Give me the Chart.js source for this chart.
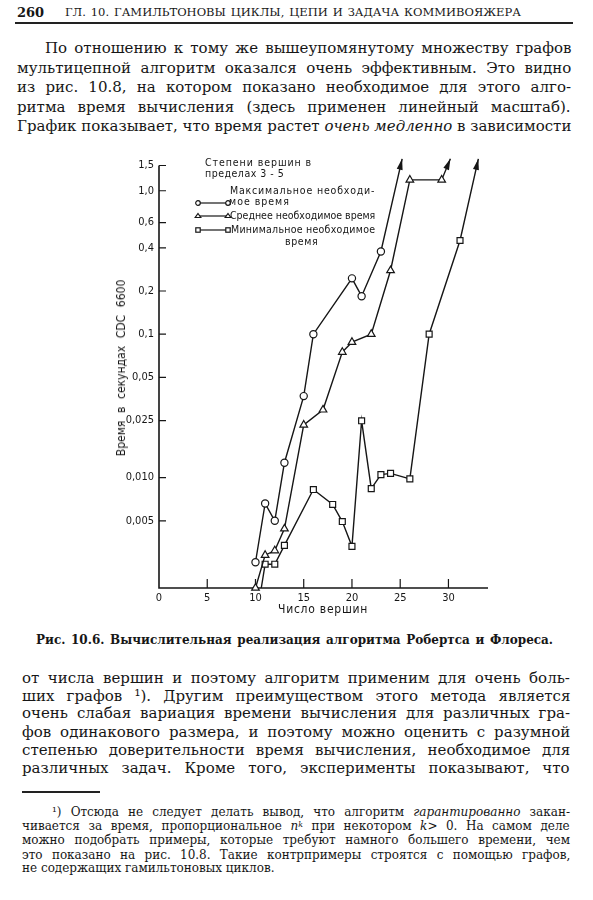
<!DOCTYPE html>
<html><head><meta charset="utf-8">
<script src="https://cdn.jsdelivr.net/npm/chart.js@4.4.1/dist/chart.umd.min.js"></script>
<style>
html,body{margin:0;padding:0;background:#fff;}
body{width:593px;height:900px;position:relative;overflow:hidden;color:#161616;}
.t{position:absolute;white-space:nowrap;transform-origin:0 50%;}
.b{font-family:"DejaVu Serif",serif;font-size:15px;line-height:15px;}
.f{font-family:"DejaVu Serif",serif;font-size:12px;line-height:12px;}
.c{font-family:"DejaVu Serif",serif;font-size:12px;line-height:12px;font-weight:bold;}
.h{font-family:"DejaVu Serif",serif;font-size:11.5px;line-height:11.5px;}
.s{font-family:"DejaVu Sans Condensed","DejaVu Sans",sans-serif;}
.lg{font-size:10.5px;line-height:10.5px;}
.rule{position:absolute;background:#222;}
#cv{position:absolute;left:100px;top:140px;}
sup{font-size:0.65em;line-height:0;vertical-align:0.45em}
</style></head>
<body>
<!-- header -->
<div class="t h" style="left:17px;top:7px;font-weight:bold;font-size:13px;">260</div>
<div class="t h" style="left:65px;top:7.4px;" data-w="456">ГЛ. 10. ГАМИЛЬТОНОВЫ ЦИКЛЫ, ЦЕПИ И ЗАДАЧА КОММИВОЯЖЕРА</div>
<div class="rule" style="left:15px;top:22px;width:558px;height:2px;"></div>

<!-- paragraph 1 -->
<div class="t b" style="left:45px;top:41.4px;" data-w="526">По отношению к тому же вышеупомянутому множеству графов</div>
<div class="t b" style="left:17px;top:60.9px;" data-w="554">мультицепной алгоритм оказался очень эффективным. Это видно</div>
<div class="t b" style="left:17px;top:80.4px;" data-w="554">из рис. 10.8, на котором показано необходимое для этого алго-</div>
<div class="t b" style="left:17px;top:99.7px;" data-w="554">ритма время вычисления (здесь применен линейный масштаб).</div>
<div class="t b" style="left:17px;top:119.1px;" data-w="554">График показывает, что время растет <i>очень медленно</i> в зависимости</div>

<!-- chart -->
<canvas id="cv" width="400" height="480"></canvas>

<!-- legend -->
<div class="t s lg" style="left:205px;top:156.5px;" data-w="107" data-m="ls">Степени вершин в</div>
<div class="t s lg" style="left:205px;top:167.5px;" data-w="79" data-m="ls">пределах 3 - 5</div>
<div class="t s lg" style="left:230px;top:184.5px;" data-w="145" data-m="ls">Максимальное необходи-</div>
<div class="t s lg" style="left:229px;top:195.5px;" data-w="61" data-m="ls">мое время</div>
<div class="t s lg" style="left:230px;top:209.5px;" data-w="145" data-m="ls">Среднее необходимое время</div>
<div class="t s lg" style="left:231px;top:223.5px;" data-w="144" data-m="ls">Минимальное необходимое</div>
<div class="t s lg" style="left:285px;top:235.5px;" data-w="33" data-m="ls">время</div>
<svg style="position:absolute;left:190px;top:195px;" width="45" height="45">
  <g stroke="#161616" stroke-width="1.2" fill="#fff">
    <line x1="7" y1="8" x2="39" y2="8"/>
    <circle cx="8" cy="8" r="2.3"/><circle cx="38" cy="8" r="2.3"/>
    <line x1="7" y1="21" x2="39" y2="21"/>
    <polygon points="8,18.5 10.8,22.5 5.2,22.5"/><polygon points="38,18.5 40.8,22.5 35.2,22.5"/>
    <line x1="7" y1="35" x2="39" y2="35"/>
    <rect x="5.8" y="32.8" width="4.4" height="4.4"/><rect x="35.8" y="32.8" width="4.4" height="4.4"/>
  </g>
</svg>

<!-- axis titles -->
<div class="t s" style="left:121px;top:368px;font-size:12px;line-height:12px;transform-origin:50% 50%;transform:translate(-50%,-50%) rotate(-90deg);" data-w="177" data-rot="translate(-50%,-50%) rotate(-90deg)">Время в секундах CDC 6600</div>
<div class="t s" style="left:278px;top:603px;font-size:12px;line-height:12px;" data-w="90" data-m="ls">Число вершин</div>

<!-- caption -->
<div class="t c" style="left:36px;top:634.1px;" data-w="517">Рис. 10.6. Вычислительная реализация алгоритма Робертса и Флореса.</div>

<!-- paragraph 2 -->
<div class="t b" style="left:22px;top:671.4px;" data-w="548">от числа вершин и поэтому алгоритм применим для очень боль-</div>
<div class="t b" style="left:22px;top:688.7px;" data-w="548">ших графов ¹). Другим преимуществом этого метода является</div>
<div class="t b" style="left:22px;top:706.4px;" data-w="548">очень слабая вариация времени вычисления для различных гра-</div>
<div class="t b" style="left:22px;top:724.7px;" data-w="548">фов одинакового размера, и поэтому можно оценить с разумной</div>
<div class="t b" style="left:22px;top:743.1px;" data-w="548">степенью доверительности время вычисления, необходимое для</div>
<div class="t b" style="left:22px;top:761.4px;" data-w="548">различных задач. Кроме того, эксперименты показывают, что</div>

<div class="rule" style="left:22px;top:791px;width:78px;height:1.5px;"></div>

<!-- footnote -->
<div class="t f" style="left:52px;top:805.8px;" data-w="518">¹) Отсюда не следует делать вывод, что алгоритм <i>гарантированно</i> закан-</div>
<div class="t f" style="left:22px;top:819.8px;" data-w="548">чивается за время, пропорциональное <i>n</i><sup><i>k</i></sup> при некотором <i>k</i>&gt; 0. На самом деле</div>
<div class="t f" style="left:22px;top:834.1px;" data-w="548">можно подобрать примеры, которые требуют намного большего времени, чем</div>
<div class="t f" style="left:22px;top:848.8px;" data-w="548">это показано на рис. 10.8. Такие контрпримеры строятся с помощью графов,</div>
<div class="t f" style="left:22px;top:862.4px;">не содержащих гамильтоновых циклов.</div>

<script>
// ---- data ----
const xTickValues = [0, 5, 10, 15, 20, 25, 30];
const yTickValues = [1.5, 1.0, 0.6, 0.4, 0.2, 0.1, 0.05, 0.025, 0.010, 0.005];
const yTickLabels = ['1,5', '1,0', '0,6', '0,4', '0,2', '0,1', '0,05', '0,025', '0,010', '0,005'];

// maximum required time (circles); last point = arrow tip
const maxX = [10, 11, 12, 13, 15, 16, 20, 21, 23, 25.2];
const maxY = [0.00257, 0.0066, 0.0050, 0.0127, 0.037, 0.100, 0.245, 0.184, 0.377, 1.67];
// average required time (triangles)
const avgX = [10, 11, 12, 13, 15, 17, 19, 20, 22, 24, 26, 29.3, 30.2];
const avgY = [0.0017, 0.00288, 0.0031, 0.0044, 0.0233, 0.0297, 0.075, 0.088, 0.100, 0.278, 1.19, 1.19, 1.67];
// minimum required time (squares)
const minX = [10.6, 11, 12, 13, 16, 18, 19, 20, 21, 22, 23, 24, 26, 28, 31.2, 33.1];
const minY = [0.0017, 0.00249, 0.00249, 0.00337, 0.00826, 0.0065, 0.00494, 0.00332, 0.0249, 0.00838, 0.0105, 0.0107, 0.0098, 0.100, 0.45, 1.67];

const seriesNames = ['Максимальное необходимое время', 'Среднее необходимое время', 'Минимальное необходимое время'];

function pts(xs, ys){ return xs.map((x,i)=>({x:x, y:ys[i]})); }
function radii(n, r, hideFirst){ return Array.from({length:n}, (_,i)=> (i===n-1 || (hideFirst && i===0)) ? 0 : r); }

const INK = '#161616';
const base = {borderColor: INK, borderWidth: 1.4, tension: 0, pointBackgroundColor: '#fff', pointBorderColor: INK, pointBorderWidth: 1.2, clip: false, fill: false};

const axesPlugin = {
  id: 'bookAxes',
  beforeDatasetsDraw(chart){
    const ctx = chart.ctx, {left, right, bottom} = chart.chartArea;
    const ys = chart.scales.y, xs = chart.scales.x;
    ctx.save();
    ctx.strokeStyle = INK; ctx.lineWidth = 1.6;
    ctx.beginPath();
    ctx.moveTo(left, ys.getPixelForValue(yTickValues[0]));
    ctx.lineTo(left, bottom); ctx.lineTo(right, bottom);
    ctx.stroke();
    ctx.lineWidth = 1.2; ctx.beginPath();
    yTickValues.forEach(v => { const p = ys.getPixelForValue(v); ctx.moveTo(left, p); ctx.lineTo(left + 7, p); });
    xTickValues.slice(1).forEach(v => { const p = xs.getPixelForValue(v); ctx.moveTo(p, bottom); ctx.lineTo(p, bottom - 9); });
    ctx.stroke();
    ctx.restore();
  },
  afterDatasetsDraw(chart){
    const ctx = chart.ctx;
    chart.data.datasets.forEach((ds, i) => {
      const el = chart.getDatasetMeta(i).data;
      const a = el[el.length-1], b = el[el.length-2];
      const ang = Math.atan2(a.y - b.y, a.x - b.x), L = 11, W = 3;
      const c = Math.cos(ang), s = Math.sin(ang);
      ctx.save(); ctx.fillStyle = INK; ctx.beginPath();
      ctx.moveTo(a.x, a.y);
      ctx.lineTo(a.x - L*c + W*s, a.y - L*s - W*c);
      ctx.lineTo(a.x - L*c - W*s, a.y - L*s + W*c);
      ctx.closePath(); ctx.fill(); ctx.restore();
    });
  }
};

new Chart(document.getElementById('cv'), {
  type: 'line',
  data: {
    datasets: [
      Object.assign({}, base, {label: seriesNames[0], data: pts(maxX, maxY), pointStyle: 'circle', pointRadius: radii(maxX.length, 3.6, false)}),
      Object.assign({}, base, {label: seriesNames[1], data: pts(avgX, avgY), pointStyle: 'triangle', pointRadius: radii(avgX.length, 4.4, false)}),
      Object.assign({}, base, {label: seriesNames[2], data: pts(minX, minY), pointStyle: 'rect', pointRadius: radii(minX.length, 4.2, true)})
    ]
  },
  options: {
    responsive: false, animation: false, devicePixelRatio: 1,
    layout: {padding: {top: 10, right: 12, left: 0, bottom: 0}},
    plugins: {legend: {display: false}, tooltip: {enabled: false}},
    scales: {
      x: {
        type: 'linear', min: 0, max: 34.1,
        afterFit: s => { s.height = 32; },
        afterBuildTicks: s => { s.ticks = xTickValues.map(v => ({value: v})); },
        grid: {display: false, drawTicks: false}, border: {display: false},
        ticks: {color: INK, padding: 4, maxRotation: 0, autoSkip: false, font: {family: '"DejaVu Sans Condensed","DejaVu Sans",sans-serif', size: 11}, callback: v => String(v)}
      },
      y: {
        type: 'logarithmic', min: 0.0017, max: 1.875,
        afterFit: s => { s.width = 59; },
        afterBuildTicks: s => { s.ticks = yTickValues.map(v => ({value: v})); },
        grid: {display: false, drawTicks: false}, border: {display: false},
        ticks: {color: INK, padding: 5, autoSkip: false, font: {family: '"DejaVu Sans Condensed","DejaVu Sans",sans-serif', size: 11},
          callback: (v, i) => yTickLabels[i]}
      }
    }
  },
  plugins: [axesPlugin]
});

function fit(){
  document.querySelectorAll('[data-w]').forEach(el => {
    const W = +el.dataset.w, m = el.dataset.m || 'ws', rot = el.dataset.rot || '';
    el.style.wordSpacing = '0px'; el.style.letterSpacing = '0px'; el.style.transform = rot;
    const w = el.offsetWidth;
    if (m === 'ls') { const n = [...el.textContent].length; el.style.letterSpacing = ((W - w) / n) + 'px'; return; }
    const n = (el.textContent.match(/ /g) || []).length;
    if (w > W) el.style.transform = rot + ' scaleX(' + (W / w) + ')';
    else if (n) el.style.wordSpacing = ((W - w) / n) + 'px';
  });
}
fit();
if (document.fonts && document.fonts.ready) document.fonts.ready.then(fit);
</script>
</body></html>
